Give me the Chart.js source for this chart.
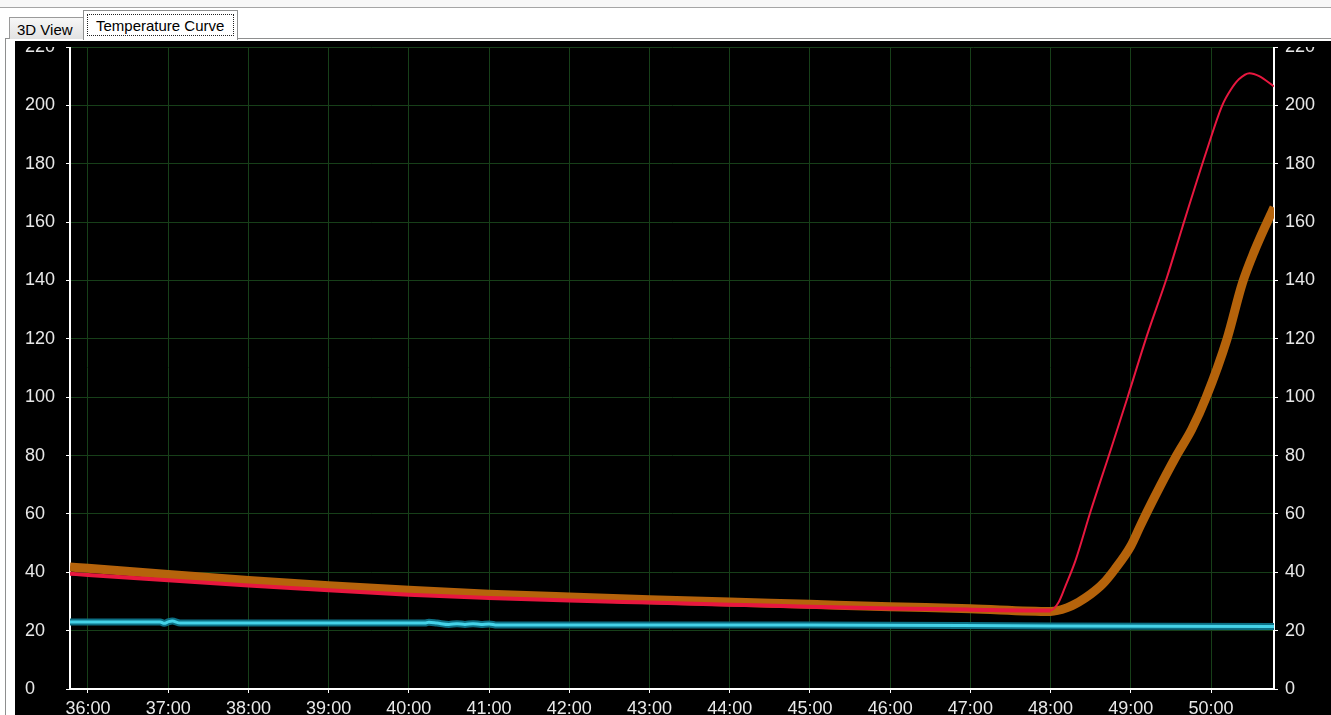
<!DOCTYPE html>
<html>
<head>
<meta charset="utf-8">
<title>Temperature Curve</title>
<script src="https://cdn.jsdelivr.net/npm/chart.js@4.4.1/dist/chart.umd.min.js"></script>
<style>
    body {
        margin: 0;
        width: 1331px;
        height: 715px;
        overflow: hidden;
        background: #fff;
        position: relative;
        font-family: "Liberation Sans", Arial, sans-serif;
    }
    .topbar {
        position: absolute; left: 0; top: 0;
        width: 1331px; height: 7px;
        background: #f7f7f7;
        border-bottom: 1px solid #a5a5a5;
    }
    .panel {
        position: absolute; left: 5px; top: 38px;
        width: 1326px; height: 677px;
        border-top: 1px solid #8e8f8f;
        border-left: 1px solid #8e8f8f;
        box-sizing: border-box;
    }
    .tab {
        position: absolute;
        box-sizing: border-box;
        font-size: 15px;
        color: #000;
        white-space: nowrap;
    }
    .tab-3d {
        left: 9px; top: 17px; width: 75px; height: 22px;
        background: linear-gradient(#f7f7f7, #e2e2e2);
        border: 1px solid #9a9a9a;
        border-bottom: none;
        padding: 3px 0 0 7px;
    }
    .tab-curve {
        left: 83px; top: 10px; width: 155px; height: 30px;
        background: #fff;
        border: 1px solid #8e8f8f;
        border-bottom: none;
        z-index: 2;
    }
    .tab-curve span {
        position: absolute; left: 3px; top: 3px; right: 3px; bottom: 4px;
        border: 1px dotted #222;
        padding: 2px 0 0 8px;
    }
    .plot-bg {
        position: absolute; left: 15px; top: 41px;
        width: 1316px; height: 674px;
        background: #000;
    }
    #curveChart {
        position: absolute; left: 15px; top: 47px;
    }
</style>
</head>
<body>
<div class="topbar"></div>
<div class="panel"></div>
<div class="tab tab-3d">3D View</div>
<div class="tab tab-curve"><span>Temperature Curve</span></div>
<div class="plot-bg"></div>
<canvas id="curveChart" width="1316" height="668"></canvas>

<script>
// Temperature curve - elapsed minutes vs. temperature

// Axis ticks
const minuteTicks = [36, 37, 38, 39, 40, 41, 42, 43, 44, 45, 46, 47, 48, 49, 50];
const tempTicks = [0, 20, 40, 60, 80, 100, 120, 140, 160, 180, 200, 220];
const timeStart = 35.776;
const timeEnd = 50.785;

// Heater (red, thin)
const heaterTime = [35.776, 36, 37, 38, 39, 40, 41, 42, 43, 44, 45, 46, 47, 48, 48.1, 48.19, 48.31, 48.5, 48.75, 48.96, 49.2, 49.45, 49.64, 49.94, 50.14, 50.25, 50.35, 50.48, 50.6, 50.785];
const heaterTemp = [39.5, 39.1, 37.3, 35.5, 33.8, 32.3, 31.2, 30.3, 29.6, 28.9, 28.2, 27.6, 27.2, 26.9, 29.7, 35.6, 44, 61, 82, 100, 121, 141, 158, 184, 200, 205.5, 209, 211, 210, 206.5];

// Product (orange, thick)
const productTime = [35.776, 36, 37, 38, 39, 40, 41, 42, 43, 44, 45, 46, 47, 48, 48.2, 48.35, 48.5, 48.65, 48.8, 49, 49.12, 49.3, 49.57, 49.76, 49.94, 50.2, 50.39, 50.54, 50.7, 50.785];
const productTemp = [41.8, 41.4, 39.2, 37.2, 35.4, 33.8, 32.5, 31.5, 30.6, 29.8, 29.0, 28.2, 27.5, 26.6, 27.8, 29.8, 32.5, 36, 41, 49, 56, 66, 80, 89, 100, 120, 139, 150, 160, 165];

// Ambient (cyan)
const ambientTime = [35.776, 36.9, 36.95, 37.0, 37.05, 37.15, 40.2, 40.25, 40.35, 40.5, 40.6, 40.7, 40.8, 40.9, 41.0, 41.1, 45.0, 48.0, 50.785];
const ambientTemp = [23.0, 23.0, 22.5, 23.0, 23.3, 22.6, 22.6, 22.9, 22.6, 22.1, 22.4, 22.1, 22.4, 22.1, 22.3, 21.9, 21.9, 21.6, 21.4];

// Heater line is drawn heavier while it is cooling
const heaterRiseStart = 48;

const gridColor = '#173f19';
const labelColor = '#e8e8e8';
const labelFont = { family: "'Liberation Sans', Arial, sans-serif", size: 18 };

function toPoints(times, temps) {
    return times.map((t, i) => ({ x: t, y: temps[i] }));
}

function fixedTicks(values) {
    return (scale) => {
        scale.ticks = values.map(v => ({ value: v }));
    };
}

function createCurveChart() {
    const ctx = document.getElementById('curveChart');
    if (!ctx) return;

    new Chart(ctx, {
        type: 'line',
        data: {
            datasets: [
                {
                    label: 'Heater',
                    data: toPoints(heaterTime, heaterTemp),
                    borderColor: '#e8173f',
                    borderWidth: 2,
                    segment: {
                        borderWidth: (c) => c.p1.parsed.x <= heaterRiseStart ? 4 : 2
                    },
                    order: 1
                },
                {
                    label: 'Product',
                    data: toPoints(productTime, productTemp),
                    borderColor: '#b5630b',
                    borderWidth: 9,
                    order: 2
                },
                {
                    label: 'Ambient',
                    data: toPoints(ambientTime, ambientTemp),
                    borderColor: '#45d2e8',
                    borderWidth: 3,
                    order: 3
                },
                {
                    label: 'Ambient edge',
                    data: toPoints(ambientTime, ambientTemp),
                    borderColor: '#0c6f84',
                    borderWidth: 7,
                    order: 4
                }
            ]
        },
        options: {
            responsive: false,
            animation: false,
            layout: { padding: { left: 10, top: 0, right: 0, bottom: 0 } },
            elements: {
                point: { radius: 0 },
                line: { cubicInterpolationMode: 'monotone', fill: false, borderCapStyle: 'butt' }
            },
            plugins: {
                legend: { display: false },
                tooltip: { enabled: false }
            },
            scales: {
                x: {
                    type: 'linear',
                    min: timeStart,
                    max: timeEnd,
                    afterBuildTicks: fixedTicks(minuteTicks),
                    afterFit: (s) => { s.height = 26; s.paddingLeft = 0; s.paddingRight = 0; },
                    ticks: {
                        callback: (v) => `${v}:00`,
                        color: labelColor,
                        font: labelFont,
                        padding: 5,
                        maxRotation: 0,
                        autoSkip: false
                    },
                    grid: { color: gridColor, tickColor: '#fff', tickLength: 4 },
                    border: { color: '#fff', width: 2 }
                },
                y: {
                    position: 'left',
                    min: 0,
                    max: 220,
                    afterBuildTicks: fixedTicks(tempTicks),
                    afterFit: (s) => { s.width = 45; s.paddingTop = 0; s.paddingBottom = 0; },
                    ticks: {
                        color: labelColor,
                        font: labelFont,
                        crossAlign: 'far',
                        padding: 6
                    },
                    grid: { color: gridColor, tickColor: '#fff', tickLength: 4 },
                    border: { color: '#fff', width: 2 }
                },
                yRight: {
                    position: 'right',
                    min: 0,
                    max: 220,
                    afterBuildTicks: fixedTicks(tempTicks),
                    afterFit: (s) => { s.width = 57; s.paddingTop = 0; s.paddingBottom = 0; },
                    ticks: {
                        color: labelColor,
                        font: labelFont,
                        padding: 7
                    },
                    grid: { drawOnChartArea: false, color: '#fff', tickColor: '#fff', tickLength: 4 },
                    border: { color: '#fff', width: 2 }
                }
            }
        }
    });
}

createCurveChart();
</script>
</body>
</html>
